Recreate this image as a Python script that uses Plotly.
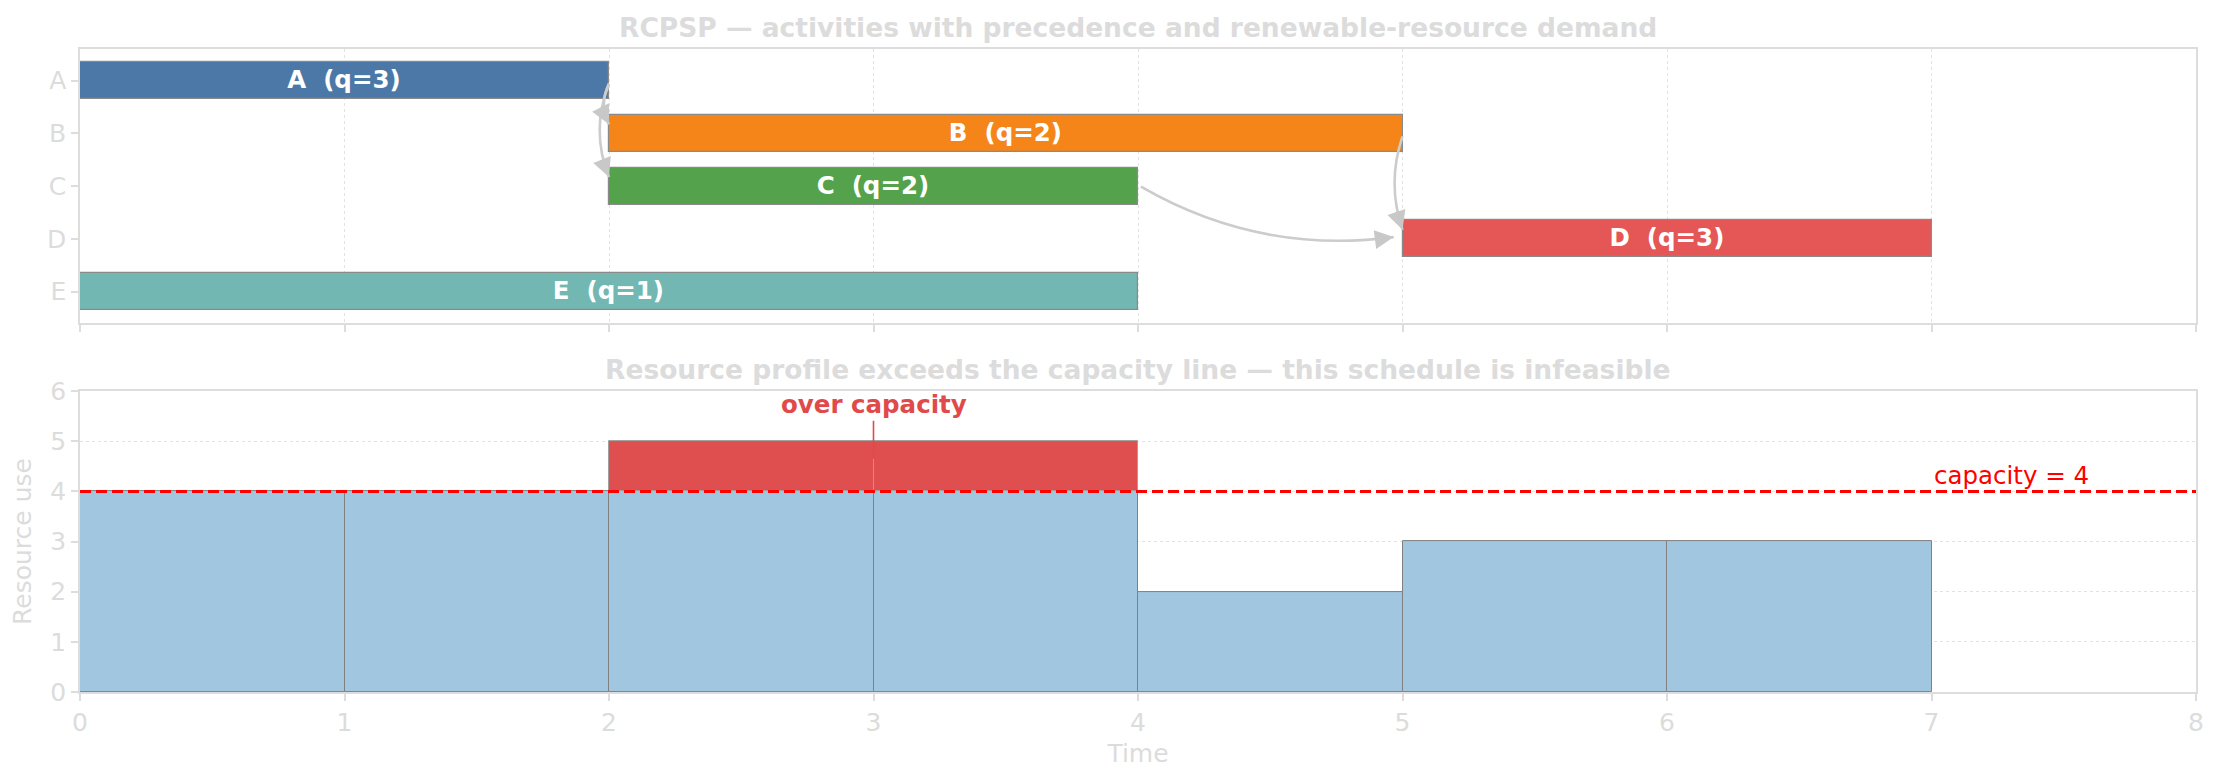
import plotly.graph_objects as go

# ---------------------------------------------------------------------------
# data
activities = ["A", "B", "C", "D", "E"]
starts = [0, 2, 2, 5, 0]
durations = [2, 3, 2, 2, 4]
demands = [3, 2, 2, 3, 1]
bar_colors = ["#4c78a8", "#f58518", "#54a24b", "#e45756", "#72b7b2"]
precedences = [("A", "B"), ("A", "C"), ("B", "D"), ("C", "D")]
arc_rads = [0.25, 0.2, 0.17, 0.17]   # bend of each connector
CAPACITY = 4
HORIZON = 8

# resource profile per unit period
periods = list(range(HORIZON - 1))
usage = [sum(q for s, d, q in zip(starts, durations, demands) if s <= t < s + d) for t in periods]

FONT = "DejaVu Sans"
LIGHT = "#dcdcdc"
FRAME = "#dddddd"
PAGE_PAD = 8   # default body margin of the html page

fig = go.Figure()

# ---------------------------------------------------------------------------
# Gantt bars (top)
for i, name in enumerate(activities):
    fig.add_trace(go.Bar(
        x=[durations[i]], base=[starts[i]], y=[i],
        orientation="h", width=0.7,
        marker=dict(color=bar_colors[i], line=dict(color="#8a8a8a", width=1.2)),
        text=[f"<b>{name}  (q={demands[i]})</b>"],
        textposition="inside", insidetextanchor="middle", textangle=0,
        textfont=dict(color="white", size=24.5, family=FONT),
        xaxis="x", yaxis="y", showlegend=False, hoverinfo="skip",
    ))

# precedence arrows, curved like an arc3 connector
sx, sy = 264.5, 52.7   # px per data unit in the top panel
shapes = []
annotations = []
for (p, s), rad in zip(precedences, arc_rads):
    ip, is_ = activities.index(p), activities.index(s)
    x0, y0 = (starts[ip] + durations[ip]) * sx, ip * sy
    x2, y2 = starts[is_] * sx, is_ * sy
    dx, dy = x2 - x0, y2 - y0
    n = (dx * dx + dy * dy) ** 0.5
    # shrink both ends a little
    x0, y0 = x0 + dx / n * 3, y0 + dy / n * 3
    x2, y2 = x2 - dx / n * 9, y2 - dy / n * 9
    dx, dy = x2 - x0, y2 - y0
    cx, cy = (x0 + x2) / 2 - rad * dy, (y0 + y2) / 2 + rad * dx
    shapes.append(dict(
        type="path", xref="x", yref="y",
        path=f"M {x0/sx},{y0/sy} Q {cx/sx},{cy/sy} {x2/sx},{y2/sy}",
        line=dict(color="#cccccc", width=2.6),
    ))
    vx, vy = cx - x2, cy - y2
    vn = (vx * vx + vy * vy) ** 0.5
    annotations.append(dict(
        x=x2 / sx, y=y2 / sy, xref="x", yref="y", text="",
        showarrow=True, arrowhead=2, arrowsize=1.45, arrowwidth=2.6,
        arrowcolor="#c8c8c8", ax=vx / vn * 14, ay=vy / vn * 14, standoff=0,
    ))

# ---------------------------------------------------------------------------
# resource profile (bottom)
mids = [t + 0.5 for t in periods]
fig.add_trace(go.Bar(
    x=mids, y=[min(u, CAPACITY) for u in usage], width=1,
    marker=dict(color="#a1c6e0", line=dict(color="#808080", width=1)),
    xaxis="x2", yaxis="y2", showlegend=False, hoverinfo="skip",
))
over_x = [m for m, u in zip(mids, usage) if u > CAPACITY]
over_y = [u - CAPACITY for u in usage if u > CAPACITY]
fig.add_trace(go.Bar(
    x=over_x, y=over_y, base=[CAPACITY] * len(over_x), width=1,
    marker=dict(color="#e04f4f", line=dict(color="#a0a0a0", width=1)),
    xaxis="x2", yaxis="y2", showlegend=False, hoverinfo="skip",
))
fig.add_trace(go.Scatter(
    x=[0, HORIZON], y=[CAPACITY, CAPACITY], mode="lines",
    line=dict(color="red", width=3, dash="11px,5px"),
    xaxis="x2", yaxis="y2", showlegend=False, hoverinfo="skip",
))

annotations += [
    dict(x=7, y=CAPACITY, xref="x2", yref="y2", text="capacity = 4",
         showarrow=False, xanchor="left", yanchor="bottom", yshift=-1,
         font=dict(color="red", size=24.5, family=FONT)),
    dict(x=3, y=4.65, xref="x2", yref="y2", text="<b>over capacity</b>",
         showarrow=True, arrowhead=0, arrowwidth=1.6, arrowcolor="#e04a4a",
         ax=0, ay=-38, yanchor="bottom",
         font=dict(color="#e04a4a", size=24.5, family=FONT)),
    dict(x=0.5, y=1.033, xref="paper", yref="paper", yanchor="middle",
         text="<b>RCPSP — activities with precedence and renewable-resource demand</b>",
         showarrow=False, font=dict(color=LIGHT, size=26.5, family=FONT)),
    dict(x=0.5, y=0.502, xref="paper", yref="paper", yanchor="middle",
         text="<b>Resource profile exceeds the capacity line — this schedule is infeasible</b>",
         showarrow=False, font=dict(color=LIGHT, size=26.5, family=FONT)),
]

axis_common = dict(showline=True, linecolor=FRAME, linewidth=1.5, mirror=True,
                   ticks="outside", ticklen=7, tickcolor=FRAME, tickwidth=1.5,
                   tickfont=dict(color=LIGHT, size=25, family=FONT), zeroline=False)

fig.update_layout(
    width=2219, height=780,
    margin=dict(l=80 - PAGE_PAD, r=23 + PAGE_PAD, t=49 - PAGE_PAD, b=88 + PAGE_PAD),
    plot_bgcolor="white", paper_bgcolor="white",
    barmode="overlay", bargap=0,
    font=dict(family=FONT),
    xaxis=dict(domain=[0, 1], anchor="y", range=[0, HORIZON], tickvals=list(range(HORIZON + 1)),
               showticklabels=False, showgrid=True, gridcolor="#e2e2e2", griddash="dot",
               gridwidth=1.2, **axis_common),
    yaxis=dict(domain=[0.5735, 1], anchor="x", range=[4.6, -0.6],
               tickvals=list(range(len(activities))), ticktext=activities,
               showgrid=False, **axis_common),
    xaxis2=dict(domain=[0, 1], anchor="y2", matches="x", range=[0, HORIZON],
                tickvals=list(range(HORIZON + 1)), showgrid=False,
                title=dict(text="Time", standoff=9, font=dict(color=LIGHT, size=25, family=FONT)),
                **axis_common),
    yaxis2=dict(domain=[0, 0.468], anchor="x2", range=[0, 6], tickvals=list(range(7)),
                showgrid=True, gridcolor="#e2e2e2", griddash="dot", gridwidth=1.2,
                title=dict(text="Resource use", standoff=13, font=dict(color=LIGHT, size=25, family=FONT)),
                **axis_common),
    shapes=shapes,
    annotations=annotations,
)

fig.write_html("out.html")
